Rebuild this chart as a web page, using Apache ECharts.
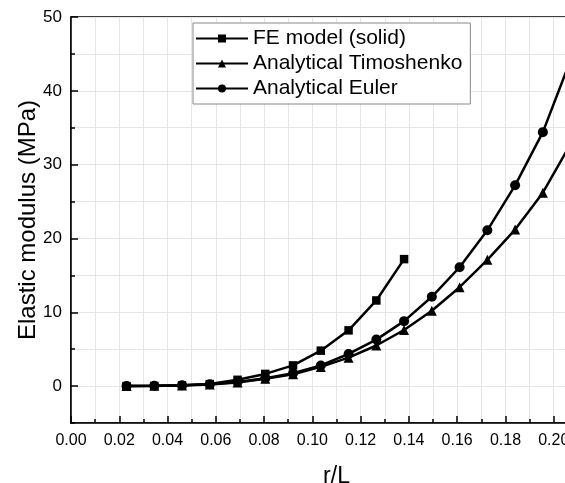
<!DOCTYPE html>
<html>
<head>
<meta charset="utf-8">
<script src="https://cdn.jsdelivr.net/npm/echarts@6/dist/echarts.min.js"></script>
<style>
  html, body { margin: 0; padding: 0; background: #fff; }
  #chart { width: 565px; height: 483px; }
</style>
</head>
<body>
<div id="chart"></div>
<script>
// r/L sample points
const rL = [0.023, 0.0345, 0.046, 0.0575, 0.069, 0.0805, 0.092, 0.1035, 0.115, 0.1265, 0.138,
  0.1495, 0.161, 0.1725, 0.184, 0.1955, 0.207]
// elastic modulus (MPa)
const feSolid = [0.0, 0.02, 0.1, 0.27, 0.85, 1.65, 2.8, 4.8, 7.55, 11.6, 17.2]
const timoshenko = [0.01, 0.03, 0.08, 0.22, 0.5, 1.0, 1.6, 2.6, 3.85, 5.5, 7.6,
  10.2, 13.4, 17.1, 21.2, 26.2, 32.8]
const euler = [0.01, 0.04, 0.1, 0.24, 0.55, 1.05, 1.75, 2.8, 4.35, 6.3, 8.8,
  12.1, 16.1, 21.1, 27.2, 34.4, 44.2]
const xTicks = { min: 0, max: 0.22, interval: 0.02 }
const yRange = { min: -5, max: 50, interval: 5 }
const yLabels = [0, 10, 20, 30, 40, 50]

const font = 'Arial, "Liberation Sans", sans-serif'
const pairs = (ys) => ys.map((y, i) => [rL[i], y])

const lineSeries = (name, symbol, size, ys) => ({
  name,
  type: 'line',
  symbol,
  symbolSize: size,
  showAllSymbol: true,
  clip: true,
  lineStyle: { color: '#000', width: 2.5 },
  itemStyle: { color: '#000' },
  data: pairs(ys)
})

const tickStyle = { color: '#000', width: 1.5 }
const gridLine = { show: true, lineStyle: { color: '#e6e6e6', width: 1 } }

const chart = echarts.init(document.getElementById('chart'))
chart.setOption({
  animation: false,
  grid: {
    left: 71,
    top: 17,
    right: -37,
    bottom: 60,
    outerBoundsMode: 'none',
    show: true,
    borderColor: '#000',
    borderWidth: 1.5,
    backgroundColor: '#fff'
  },
  legend: {
    orient: 'vertical',
    left: 193,
    top: 23,
    itemWidth: 52,
    itemHeight: 10,
    itemGap: 4,
    padding: [5, 8, 5, 2],
    borderColor: '#888',
    borderWidth: 1,
    backgroundColor: '#fff',
    textStyle: { fontFamily: font, fontSize: 21, color: '#000' },
    data: ['FE model (solid)', 'Analytical Timoshenko', 'Analytical Euler']
  },
  xAxis: {
    type: 'value',
    min: xTicks.min,
    max: xTicks.max,
    interval: xTicks.interval,
    name: 'r/L',
    nameLocation: 'middle',
    nameGap: 42,
    nameTextStyle: { fontFamily: font, fontSize: 23, color: '#000' },
    axisLine: { show: true, onZero: false, lineStyle: { color: '#000', width: 1.5 } },
    axisTick: { show: true, inside: true, length: 7, lineStyle: tickStyle },
    minorTick: { show: true, splitNumber: 2, length: 4, lineStyle: tickStyle },
    axisLabel: {
      fontFamily: font, fontSize: 16, color: '#000', margin: 10,
      formatter: (v) => v.toFixed(2)
    },
    splitLine: gridLine,
    minorSplitLine: gridLine
  },
  yAxis: [
    {
      // short ticks and grid lines every 5
      type: 'value',
      min: yRange.min,
      max: yRange.max,
      interval: yRange.interval,
      name: 'Elastic modulus (MPa)',
      nameLocation: 'middle',
      nameGap: 31,
      nameTextStyle: { fontFamily: font, fontSize: 24, color: '#000' },
      axisLine: { show: true, onZero: false, lineStyle: { color: '#000', width: 1.5 } },
      axisTick: { show: true, inside: true, length: 4, lineStyle: tickStyle },
      axisLabel: { show: false },
      splitLine: gridLine
    },
    {
      // long ticks + labels at 0,10,...50
      type: 'value',
      position: 'left',
      min: yRange.min,
      max: yRange.max,
      axisLine: { show: false, onZero: false },
      axisTick: { show: true, inside: true, length: 7, lineStyle: tickStyle, customValues: yLabels },
      axisLabel: {
        fontFamily: font, fontSize: 17, color: '#000', margin: 9,
        customValues: yLabels
      },
      splitLine: { show: false }
    }
  ],
  series: [
    lineSeries('FE model (solid)', 'rect', 8.5, feSolid),
    lineSeries('Analytical Timoshenko', 'triangle', 10, timoshenko),
    lineSeries('Analytical Euler', 'circle', 10, euler)
  ]
})
</script>
</body>
</html>
